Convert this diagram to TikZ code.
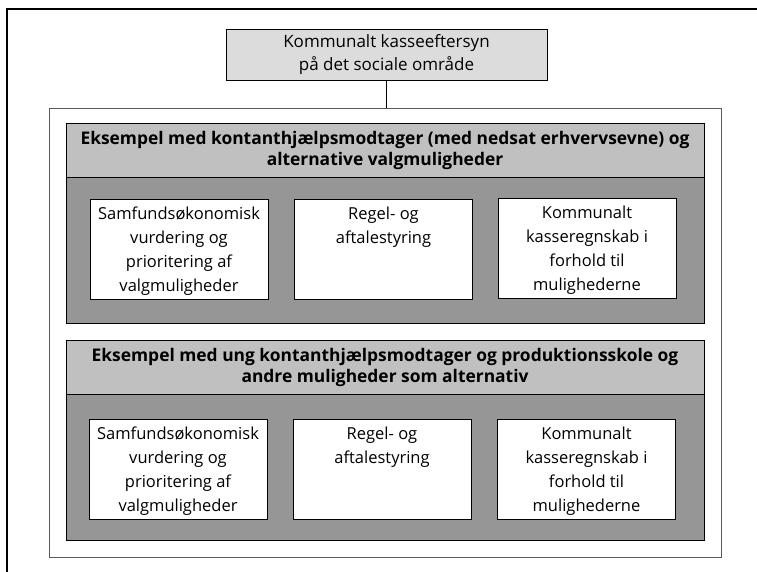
\documentclass[tikz,border=0pt]{standalone}
\usepackage{fontspec}
\setmainfont{Open Sans}
\definecolor{topgray}{RGB}{220,220,220}
\definecolor{headgray}{RGB}{192,192,192}
\definecolor{bodygray}{RGB}{150,150,150}
\definecolor{framegray}{RGB}{90,90,90}
\begin{document}
\begin{tikzpicture}[x=1pt,y=-1pt,
  topbox/.style={draw=black, fill=topgray, line width=0.6pt, inner sep=0pt,
    minimum width=321pt, minimum height=51pt, align=center,
    font=\fontsize{17}{23}\selectfont},
  outerbox/.style={draw=framegray, line width=0.8pt, inner sep=0pt,
    minimum width=672pt, minimum height=449pt},
  headbox/.style={draw=black, fill=headgray, line width=0.6pt, inner sep=0pt,
    minimum width=638pt, minimum height=54pt, align=center,
    font=\fontsize{17.4}{21}\selectfont\bfseries},
  bodybox/.style={draw=black, fill=bodygray, line width=0.6pt, inner sep=0pt,
    minimum width=638pt, minimum height=146pt},
  wbox/.style={draw=black, fill=white, line width=0.6pt, inner sep=0pt,
    minimum width=178pt, minimum height=100pt},
  wtext/.style={anchor=north, align=center, inner sep=0pt,
    font=\fontsize{16.5}{24}\selectfont},
  link/.style={draw=black, line width=0.6pt}
]
\useasboundingbox (0,0) rectangle (757,572);

% heavy frame along the left and top edge
\draw[line width=2.6pt] (7,572) -- (7,9) -- (757,9);

% title box and the frame holding both examples
\node[topbox] (top) at (386.5,54.5) {Kommunalt kasseeftersyn\\på det sociale område};
\node[outerbox] (outer) at (385,332.5) {};
\draw[link] (top.south) -- (top.south |- outer.north);

% first example
\node[bodybox] (b1) at (385,250) {};
\node[headbox] (h1) at (385,150) {Eksempel med kontanthjælpsmodtager (med nedsat erhvervsevne) og\\alternative valgmuligheder};
\node[wbox] (a1) at (179,249) {};
\node[wbox] (a2) at (383.5,249) {};
\node[wbox] (a3) at (587,248.5) {};
\node[wtext] (a1t) at ([yshift=-8pt]a1.north) {Samfundsøkonomisk\\vurdering og\\prioritering af\\valgmuligheder};
\node[wtext] (a2t) at ([yshift=-8pt]a2.north) {Regel- og\\aftalestyring};
\node[wtext] (a3t) at ([yshift=-8pt]a3.north) {Kommunalt\\kasseregnskab i\\forhold til\\mulighederne};

% second example
\node[bodybox] (b2) at (385,467.5) {};
\node[headbox] (h2) at (385,367.5) {Eksempel med ung kontanthjælpsmodtager og produktionsskole og\\andre muligheder som alternativ};
\node[wbox] (c1) at (178,469) {};
\node[wbox] (c2) at (382,469) {};
\node[wbox] (c3) at (586.5,469) {};
\node[wtext] (c1t) at ([yshift=-8pt]c1.north) {Samfundsøkonomisk\\vurdering og\\prioritering af\\valgmuligheder};
\node[wtext] (c2t) at ([yshift=-8pt]c2.north) {Regel- og\\aftalestyring};
\node[wtext] (c3t) at ([yshift=-8pt]c3.north) {Kommunalt\\kasseregnskab i\\forhold til\\mulighederne};
\end{tikzpicture}
\end{document}
